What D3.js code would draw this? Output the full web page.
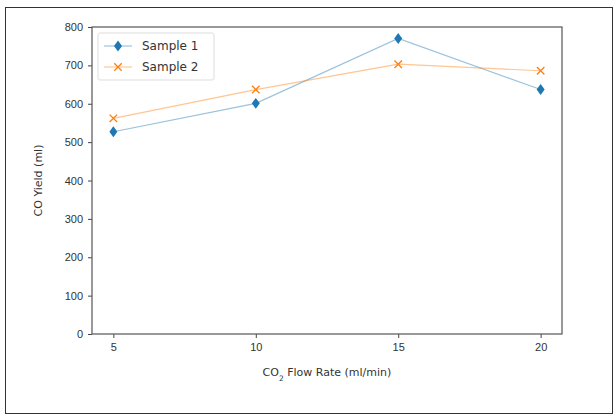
<!DOCTYPE html>
<html>
<head>
<meta charset="utf-8">
<script src="https://cdn.jsdelivr.net/npm/d3@7"></script>
<style>
  body { margin: 0; background: #fff; }
  svg { display: block; font-family: "DejaVu Sans", sans-serif; }
</style>
</head>
<body>
<svg id="chart" width="615" height="416"></svg>
<script>
// flow rates and yields
var flowRates = [5, 10, 15, 20];
var sample1 = [527, 601, 770, 637];
var sample2 = [562, 637, 703, 686];
var yTicks = [0, 100, 200, 300, 400, 500, 600, 700, 800];
var seriesNames = ["Sample 1", "Sample 2"];

var settings = {
    left: 92,
    right: 562,
    top: 27,
    bottom: 334
};

var svg = d3.select("#chart");

// outer frame
svg.append("rect")
    .attr("x", 5.5).attr("y", 7.5)
    .attr("width", 607).attr("height", 406)
    .attr("fill", "#fff")
    .attr("stroke", "#333")
    .attr("stroke-width", 1);

var x = d3.scaleLinear().domain([4.25, 20.75]).range([settings.left, settings.right]);
var y = d3.scaleLinear().domain([0, 800]).range([settings.bottom, settings.top]);

var xAxis = svg.append("g")
    .attr("transform", "translate(0," + settings.bottom + ")")
    .call(d3.axisBottom(x).tickValues(flowRates).tickSize(4).tickPadding(5));

var yAxis = svg.append("g")
    .attr("transform", "translate(" + settings.left + ",0)")
    .call(d3.axisLeft(y).tickValues(yTicks).tickSize(4).tickPadding(5));

[xAxis, yAxis].forEach(function(g) {
    g.select(".domain").remove();
    g.selectAll(".tick line").attr("stroke", "#444");
    g.selectAll(".tick text").attr("fill", "#333").style("font-size", "11px");
});

// axes box
svg.append("rect")
    .attr("x", settings.left).attr("y", settings.top)
    .attr("width", settings.right - settings.left)
    .attr("height", settings.bottom - settings.top)
    .attr("fill", "none")
    .attr("stroke", "#555")
    .attr("stroke-width", 1.2);

// axis labels
svg.append("text")
    .attr("x", (settings.left + settings.right) / 2)
    .attr("y", 376)
    .attr("text-anchor", "middle")
    .attr("fill", "#333")
    .style("font-size", "11px")
    .html('CO<tspan baseline-shift="sub" style="font-size:7.5px">2</tspan> Flow Rate (ml/min)');

svg.append("text")
    .attr("transform", "translate(42," + ((settings.top + settings.bottom) / 2) + ") rotate(-90)")
    .attr("text-anchor", "middle")
    .attr("fill", "#333")
    .style("font-size", "11px")
    .text("CO Yield (ml)");

var line = d3.line()
    .x(function(d, i) { return x(flowRates[i]); })
    .y(function(d) { return y(d); });

var diamond = {
    draw: function(context, size) {
        var w = Math.sqrt(size) * 0.5;
        var h = Math.sqrt(size) * 0.68;
        context.moveTo(0, -h);
        context.lineTo(w, 0);
        context.lineTo(0, h);
        context.lineTo(-w, 0);
        context.closePath();
    }
};

var cross = {
    draw: function(context, size) {
        var s = Math.sqrt(size) / 2;
        context.moveTo(-s, -s);
        context.lineTo(s, s);
        context.moveTo(s, -s);
        context.lineTo(-s, s);
    }
};

// sample 1
svg.append("path")
    .attr("d", line(sample1))
    .attr("fill", "none")
    .attr("stroke", "#1f77b4")
    .attr("stroke-opacity", 0.45)
    .attr("stroke-width", 1.2);

svg.selectAll(".m1").data(sample1).enter().append("path")
    .attr("class", "m1")
    .attr("transform", function(d, i) { return "translate(" + x(flowRates[i]) + "," + y(d) + ")"; })
    .attr("d", d3.symbol().type(diamond).size(64))
    .attr("fill", "#1f77b4");

// sample 2
svg.append("path")
    .attr("d", line(sample2))
    .attr("fill", "none")
    .attr("stroke", "#ff7f0e")
    .attr("stroke-opacity", 0.45)
    .attr("stroke-width", 1.2);

svg.selectAll(".m2").data(sample2).enter().append("path")
    .attr("class", "m2")
    .attr("transform", function(d, i) { return "translate(" + x(flowRates[i]) + "," + y(d) + ")"; })
    .attr("d", d3.symbol().type(cross).size(56))
    .attr("fill", "none")
    .attr("stroke", "#ff7f0e")
    .attr("stroke-width", 1.3);

// legend
var legend = svg.append("g").attr("transform", "translate(98,33)");
legend.append("rect")
    .attr("width", 116).attr("height", 47)
    .attr("rx", 2)
    .attr("fill", "#fff")
    .attr("stroke", "#ddd");

var colors = ["#1f77b4", "#ff7f0e"];
var symbols = [diamond, cross];
seriesNames.forEach(function(name, i) {
    var yy = 13 + i * 21;
    legend.append("line")
        .attr("x1", 6).attr("x2", 34)
        .attr("y1", yy).attr("y2", yy)
        .attr("stroke", colors[i])
        .attr("stroke-opacity", 0.45)
        .attr("stroke-width", 1.2);
    var m = legend.append("path")
        .attr("transform", "translate(20," + yy + ")")
        .attr("d", d3.symbol().type(symbols[i]).size(i === 0 ? 64 : 56));
    if (i === 0) m.attr("fill", colors[i]);
    else m.attr("fill", "none").attr("stroke", colors[i]).attr("stroke-width", 1.3);
    legend.append("text")
        .attr("x", 44).attr("y", yy + 4)
        .attr("fill", "#333")
        .style("font-size", "12px")
        .text(name);
});
</script>
</body>
</html>
